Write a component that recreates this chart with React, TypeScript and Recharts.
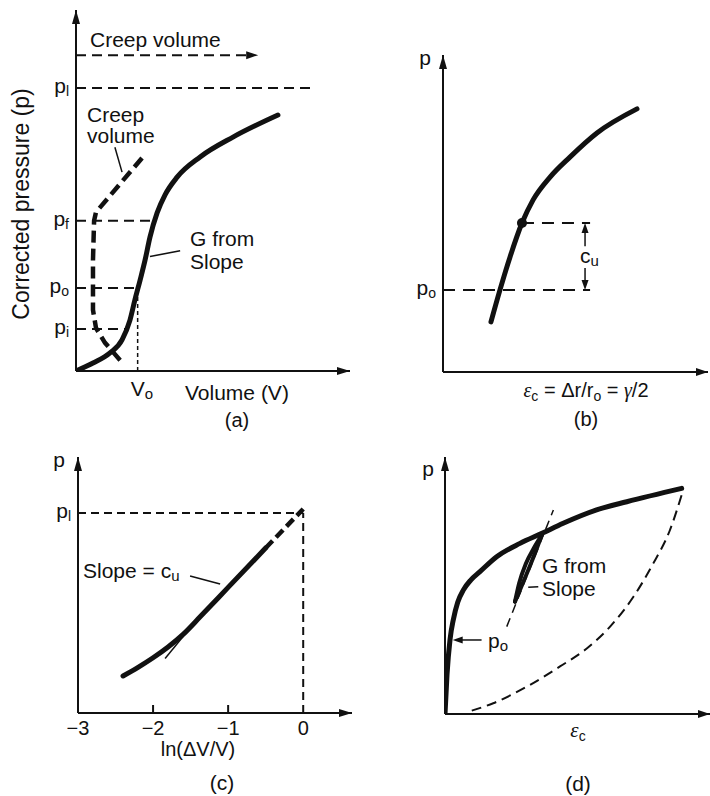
import React from 'react'
import { LineChart, Line, XAxis, YAxis, ReferenceLine, ReferenceDot } from 'recharts'

const FONT = '"Liberation Sans", Arial, Helvetica, sans-serif'
const INK = '#111'

// (a) corrected pressure vs volume, both axes 0..100 (schematic units)
const aLoading = [
  { x: 0, y: 0 }, { x: 6.2, y: 2.2 }, { x: 12.4, y: 5.0 }, { x: 16.8, y: 8.6 },
  { x: 19.7, y: 14.1 }, { x: 21.5, y: 19.7 }, { x: 23.4, y: 25.2 }, { x: 25.2, y: 30.7 },
  { x: 27.0, y: 37.1 }, { x: 29.6, y: 43.8 }, { x: 32.5, y: 48.8 }, { x: 36.9, y: 53.7 },
  { x: 45.3, y: 59.3 }, { x: 57.3, y: 64.8 }, { x: 73.7, y: 70.9 },
]
const aCreep = [
  { x: 16.1, y: 3.0 }, { x: 10.6, y: 7.8 }, { x: 7.3, y: 11.9 }, { x: 6.2, y: 16.9 },
  { x: 6.2, y: 30.7 }, { x: 6.6, y: 41.6 }, { x: 7.3, y: 44.0 }, { x: 24.1, y: 59.0 },
]
const aPi = 11.6
const aPo = 23
const aPf = 41.6
const aPl = 78.4
const aVo = 22.5
const aCreepArrowY = 87.5
const aPressTicks = [aPi, aPo, aPf, aPl]
const aPressSubs = ['i', 'o', 'f', 'l']
const aVolTicks = [aVo]
const aVolSubs = ['o']

// (b) p vs cavity strain
const bCurve = [
  { x: 18.1, y: 15.8 }, { x: 21.5, y: 25.9 }, { x: 25.3, y: 36.3 }, { x: 29.8, y: 47.0 },
  { x: 34.0, y: 54.3 }, { x: 40.4, y: 61.5 }, { x: 47.9, y: 67.8 }, { x: 58.1, y: 75.4 },
  { x: 73.2, y: 83.0 },
]
const bPo = 25.9
const bYield = { x: 29.8, y: 47.0 }
const bGuideEnd = 55.5
const bCuX = 53.6
const bPressTicks = [bPo]
const bPressSubs = ['o']

// (c) p vs ln(dV/V)
const cSolid = [
  { x: -2.4, y: 1.85 }, { x: -2.2, y: 2.28 }, { x: -2.0, y: 2.76 }, { x: -1.8, y: 3.3 },
  { x: -1.6, y: 3.93 }, { x: -1.37, y: 4.82 }, { x: -1.0, y: 6.28 }, { x: -0.5, y: 8.25 },
]
const cDashed = [{ x: -0.5, y: 8.25 }, { x: 0, y: 10.2 }]
const cTangent = [{ x: -1.84, y: 2.73 }, { x: -1.6, y: 3.82 }]
const cPl = 10
const cLnTicks = [-3, -2, -1, 0]
const cInnerTicks = [-2, -1]
const cPressTicks = [cPl]
const cPressSubs = ['l']

// (d) p vs eps_c with unload-reload loop
const dLoading = [
  { x: 0, y: 0 }, { x: 0.75, y: 15.2 }, { x: 1.9, y: 29 }, { x: 3.2, y: 37 },
  { x: 4.8, y: 43.5 }, { x: 6.9, y: 48.2 }, { x: 9.8, y: 52.2 }, { x: 13.2, y: 55.4 },
  { x: 19.5, y: 61.2 }, { x: 28.3, y: 66.4 }, { x: 36.6, y: 70.3 }, { x: 44.6, y: 74.2 },
  { x: 57.2, y: 79.4 }, { x: 68.6, y: 82.6 }, { x: 89.3, y: 87.8 },
]
const dUnload = [
  { x: 10.1, y: 1.3 }, { x: 18.2, y: 4.2 }, { x: 30.8, y: 10.6 }, { x: 43.4, y: 18.5 },
  { x: 53.5, y: 25.5 }, { x: 62.3, y: 34.0 }, { x: 71.1, y: 45.6 }, { x: 78.6, y: 58.6 },
  { x: 84.9, y: 71.6 }, { x: 89.3, y: 85.2 },
]
const dLoopA = [{ x: 26.4, y: 43.7 }, { x: 28.0, y: 51 }, { x: 30.5, y: 58.5 }, { x: 33.5, y: 64.5 }, { x: 36.5, y: 69.6 }]
const dLoopB = [{ x: 26.4, y: 43.7 }, { x: 29.0, y: 50 }, { x: 32.0, y: 57.5 }, { x: 34.5, y: 64 }, { x: 36.5, y: 69.6 }]
const dTangent = [{ x: 23.3, y: 34.0 }, { x: 40.9, y: 79.4 }]
const dPoY = 28.8

const axisStyle = { stroke: INK, strokeWidth: 2 }

const head = (dir: string, len = 13, half = 4.5) => (p: any) => {
  const { cx, cy } = p
  let d = ''
  if (dir === 'up') d = `M${cx},${cy} L${cx - half},${cy + len} L${cx + half},${cy + len} Z`
  if (dir === 'down') d = `M${cx},${cy} L${cx - half},${cy - len} L${cx + half},${cy - len} Z`
  if (dir === 'right') d = `M${cx},${cy} L${cx - len},${cy - half} L${cx - len},${cy + half} Z`
  if (dir === 'left') d = `M${cx},${cy} L${cx + len},${cy - half} L${cx + len},${cy + half} Z`
  return <path d={d} fill={INK} />
}

const pTick = (ticks: number[], subs: string[]) => (p: any) => {
  const s = subs[ticks.indexOf(p.payload.value)]
  return (
    <text x={p.x - 7} y={p.y + 5} textAnchor="end" fontFamily={FONT} fontSize={21} fill={INK}>
      p<tspan dy={3} fontSize={14}>{s}</tspan>
    </text>
  )
}

const vTick = (p: any) => (
  <text x={p.x - 7} y={p.y + 25} fontFamily={FONT} fontSize={21} fill={INK}>
    V<tspan dy={3} fontSize={15}>{aVolSubs[aVolTicks.indexOf(p.payload.value)]}</tspan>
  </text>
)

const lnTick = (p: any) => {
  const v = p.payload.value
  return (
    <text x={p.x} y={p.y + 22} textAnchor="middle" fontFamily={FONT} fontSize={20} fill={INK}>
      {v < 0 ? '\u2212' + Math.abs(v) : String(v)}
    </text>
  )
}

const thin = { stroke: INK, strokeWidth: 2, strokeDasharray: '10 6' }

// axes need a non-zero size or recharts skips them, so margins are reduced by 30
function PanelA() {
  return (
    <LineChart width={355} height={420} margin={{ top: 10, right: 5, bottom: 19, left: 46 }}>
      <XAxis type="number" dataKey="x" domain={[0, 100]} allowDataOverflow height={30} axisLine={axisStyle}
        tickLine={false} tickSize={0} tickMargin={0} ticks={aVolTicks} interval={0} tick={vTick} />
      <YAxis type="number" domain={[0, 100]} allowDataOverflow width={30} axisLine={axisStyle}
        tickLine={false} tickSize={0} tickMargin={0} ticks={aPressTicks} interval={0} tick={pTick(aPressTicks, aPressSubs)} />
      <ReferenceLine segment={[{ x: 0, y: aPl }, { x: 85.4, y: aPl }]} {...thin} ifOverflow="visible" />
      <ReferenceLine segment={[{ x: 0, y: aPf }, { x: 28.7, y: aPf }]} {...thin} ifOverflow="visible" />
      <ReferenceLine segment={[{ x: 0, y: aPo }, { x: aVo, y: aPo }]} {...thin} ifOverflow="visible" />
      <ReferenceLine segment={[{ x: 0, y: aPi }, { x: 18, y: aPi }]} {...thin} ifOverflow="visible" />
      <ReferenceLine segment={[{ x: aVo, y: 0 }, { x: aVo, y: aPo }]} stroke={INK} strokeWidth={1.5} strokeDasharray="4 3" ifOverflow="visible" />
      <ReferenceLine segment={[{ x: 0, y: aCreepArrowY }, { x: 63, y: aCreepArrowY }]} {...thin} ifOverflow="visible" />
      <ReferenceDot x={66.5} y={aCreepArrowY} r={1} shape={head('right', 12, 4)} ifOverflow="visible" />
      <ReferenceLine segment={[{ x: 14.2, y: 62.0 }, { x: 16.8, y: 55.1 }]} stroke={INK} strokeWidth={1.5} ifOverflow="visible" />
      <ReferenceLine segment={[{ x: 27.0, y: 31.7 }, { x: 38.0, y: 33.3 }]} stroke={INK} strokeWidth={1.5} ifOverflow="visible" />
      <ReferenceDot x={0} y={100} r={1} shape={head('up', 14, 4)} ifOverflow="visible" />
      <ReferenceDot x={100} y={0} r={1} shape={head('right', 13, 4)} ifOverflow="visible" />
      <Line data={aCreep} dataKey="y" type="linear" stroke={INK} strokeWidth={4.5} strokeDasharray="12 6"
        dot={false} isAnimationActive={false} />
      <Line data={aLoading} dataKey="y" type="monotone" stroke={INK} strokeWidth={5} strokeLinecap="round"
        dot={false} isAnimationActive={false} />
    </LineChart>
  )
}

function PanelB() {
  return (
    <LineChart width={340} height={420} margin={{ top: 55, right: 2, bottom: 18, left: 43 }}>
      <XAxis type="number" dataKey="x" domain={[0, 100]} allowDataOverflow height={30} axisLine={axisStyle} tick={false} tickLine={false} />
      <YAxis type="number" domain={[0, 100]} allowDataOverflow width={30} axisLine={axisStyle}
        tickLine={false} tickSize={0} tickMargin={0} ticks={bPressTicks} interval={0} tick={pTick(bPressTicks, bPressSubs)} />
      <ReferenceLine segment={[{ x: 0, y: bPo }, { x: bGuideEnd, y: bPo }]} stroke={INK} strokeWidth={2} strokeDasharray="12 8" ifOverflow="visible" />
      <ReferenceLine segment={[bYield, { x: bGuideEnd, y: bYield.y }]} stroke={INK} strokeWidth={2} strokeDasharray="12 8" ifOverflow="visible" />
      <ReferenceLine segment={[{ x: bCuX, y: 39.7 }, { x: bCuX, y: bYield.y - 2 }]} stroke={INK} strokeWidth={1.5} ifOverflow="visible" />
      <ReferenceLine segment={[{ x: bCuX, y: 32.8 }, { x: bCuX, y: bPo + 2 }]} stroke={INK} strokeWidth={1.5} ifOverflow="visible" />
      <ReferenceDot x={bCuX} y={bYield.y} r={1} shape={head('up', 10, 3.5)} ifOverflow="visible" />
      <ReferenceDot x={bCuX} y={bPo} r={1} shape={head('down', 10, 3.5)} ifOverflow="visible" />
      <ReferenceDot x={0} y={100} r={1} shape={head('up', 14, 4)} ifOverflow="visible" />
      <ReferenceDot x={100} y={0} r={1} shape={head('right', 12, 4)} ifOverflow="visible" />
      <Line data={bCurve} dataKey="y" type="monotone" stroke={INK} strokeWidth={5} strokeLinecap="round"
        dot={false} isAnimationActive={false} />
      <ReferenceDot x={bYield.x} y={bYield.y} r={5} fill={INK} stroke="none" ifOverflow="visible" />
    </LineChart>
  )
}

function PanelC() {
  return (
    <LineChart width={360} height={376} margin={{ top: 37, right: 8, bottom: 53, left: 48 }}>
      <XAxis type="number" dataKey="x" domain={[-3, 0.65]} allowDataOverflow height={30} axisLine={axisStyle}
        tickLine={false} tickSize={0} tickMargin={0} ticks={cLnTicks} interval={0} tick={lnTick} />
      <YAxis type="number" domain={[0, 12.8]} allowDataOverflow width={30} axisLine={axisStyle}
        tickLine={false} tickSize={0} tickMargin={0} ticks={cPressTicks} interval={0} tick={pTick(cPressTicks, cPressSubs)} />
      {cInnerTicks.map((t) => (
        <ReferenceLine key={t} segment={[{ x: t, y: 0 }, { x: t, y: 0.4 }]} stroke={INK} strokeWidth={2} ifOverflow="visible" />
      ))}
      <ReferenceLine segment={[{ x: -3, y: cPl }, { x: 0, y: cPl }]} stroke={INK} strokeWidth={2} strokeDasharray="8 5" ifOverflow="visible" />
      <ReferenceLine segment={[{ x: 0, y: 0 }, { x: 0, y: cPl }]} stroke={INK} strokeWidth={2} strokeDasharray="8 5" ifOverflow="visible" />
      <ReferenceLine segment={[{ x: -1.507, y: 6.85 }, { x: -1.107, y: 6.45 }]} stroke={INK} strokeWidth={1.5} ifOverflow="visible" />
      <ReferenceDot x={-3} y={12.8} r={1} shape={head('up', 14, 4)} ifOverflow="visible" />
      <ReferenceDot x={0.65} y={0} r={1} shape={head('right', 13, 4)} ifOverflow="visible" />
      <Line data={cTangent} dataKey="y" type="linear" stroke={INK} strokeWidth={1.5} dot={false} isAnimationActive={false} />
      <Line data={cSolid} dataKey="y" type="monotone" stroke={INK} strokeWidth={5} strokeLinecap="round"
        dot={false} isAnimationActive={false} />
      <Line data={cDashed} dataKey="y" type="linear" stroke={INK} strokeWidth={4.5} strokeDasharray="10 5"
        dot={false} isAnimationActive={false} />
    </LineChart>
  )
}

function PanelD() {
  return (
    <LineChart width={350} height={376} margin={{ top: 37, right: 0, bottom: 52, left: 55 }}>
      <XAxis type="number" dataKey="x" domain={[0, 100]} allowDataOverflow height={30} axisLine={axisStyle} tick={false} tickLine={false} />
      <YAxis type="number" domain={[0, 100]} allowDataOverflow width={30} axisLine={axisStyle} tick={false} tickLine={false} />
      <ReferenceDot x={0} y={100} r={1} shape={head('up', 14, 4)} ifOverflow="visible" />
      <ReferenceDot x={100} y={0} r={1} shape={head('right', 12, 4)} ifOverflow="visible" />
      <ReferenceLine segment={[{ x: 13.8, y: dPoY }, { x: 5, y: dPoY }]} stroke={INK} strokeWidth={1.5} ifOverflow="visible" />
      <ReferenceDot x={2.9} y={dPoY} r={1} shape={head('left', 10, 3.5)} ifOverflow="visible" />
      <ReferenceLine segment={[{ x: 31.4, y: 49.3 }, { x: 35.2, y: 49.5 }]} stroke={INK} strokeWidth={1.5} ifOverflow="visible" />
      <Line data={dTangent} dataKey="y" type="linear" stroke={INK} strokeWidth={1.5} strokeDasharray="9 6"
        dot={false} isAnimationActive={false} />
      <Line data={dUnload} dataKey="y" type="monotone" stroke={INK} strokeWidth={2} strokeDasharray="10 6"
        dot={false} isAnimationActive={false} />
      <Line data={dLoopA} dataKey="y" type="monotone" stroke={INK} strokeWidth={4} strokeLinecap="round"
        dot={false} isAnimationActive={false} />
      <Line data={dLoopB} dataKey="y" type="monotone" stroke={INK} strokeWidth={4} strokeLinecap="round"
        dot={false} isAnimationActive={false} />
      <Line data={dLoading} dataKey="y" type="monotone" stroke={INK} strokeWidth={5} strokeLinecap="round"
        dot={false} isAnimationActive={false} />
    </LineChart>
  )
}

const txt = { fontFamily: FONT, fontSize: 21, fill: INK }
const greek = { fontFamily: '"Liberation Serif", "DejaVu Serif", serif', fontStyle: 'italic' }

function Labels() {
  return (
    <svg width={710} height={796} style={{ position: 'absolute', left: 0, top: 0, pointerEvents: 'none' }}>
      {/* (a) */}
      <text {...txt} x={90} y={47}>Creep volume</text>
      <text {...txt} x={87} y={122}>Creep</text>
      <text {...txt} x={87} y={143}>volume</text>
      <text {...txt} x={190} y={246}>G from</text>
      <text {...txt} x={190} y={269}>Slope</text>
      <text {...txt} x={185} y={400}>Volume (V)</text>
      <text {...txt} fontSize={20} x={237} y={427} textAnchor="middle">(a)</text>
      <text {...txt} fontSize={23} x={29} y={204} textAnchor="middle" transform="rotate(-90 29 204)">Corrected pressure (p)</text>
      {/* (b) */}
      <text {...txt} x={425} y={65} textAnchor="middle">p</text>
      <text {...txt} x={580} y={263}>c<tspan dy={3} fontSize={15}>u</tspan></text>
      <text {...txt} fontSize={20} x={586} y={397} textAnchor="middle">
        <tspan {...greek}>ε</tspan><tspan dy={4} fontSize={14}>c</tspan><tspan dy={-4}> = Δr/r</tspan>
        <tspan dy={4} fontSize={14}>o</tspan><tspan dy={-4}> = </tspan><tspan {...greek}>γ</tspan>/2
      </text>
      <text {...txt} fontSize={20} x={586} y={426} textAnchor="middle">(b)</text>
      {/* (c) */}
      <text {...txt} x={59} y={467} textAnchor="middle">p</text>
      <text {...txt} x={83} y={578}>Slope = c<tspan dy={3} fontSize={15}>u</tspan></text>
      <text {...txt} fontSize={20} x={198} y={756} textAnchor="middle">ln(ΔV/V)</text>
      <text {...txt} x={222} y={790} textAnchor="middle">(c)</text>
      {/* (d) */}
      <text {...txt} x={428} y={476} textAnchor="middle">p</text>
      <text {...txt} x={488} y={648}>p<tspan dy={3} fontSize={15}>o</tspan></text>
      <text {...txt} x={542} y={573}>G from</text>
      <text {...txt} x={542} y={596}>Slope</text>
      <text {...txt} x={578} y={737} textAnchor="middle"><tspan {...greek}>ε</tspan><tspan dy={4} fontSize={14}>c</tspan></text>
      <text {...txt} x={578} y={791} textAnchor="middle">(d)</text>
    </svg>
  )
}

export default function App() {
  return (
    <div style={{ position: 'absolute', left: 0, top: 0, width: 710, height: 796, background: '#fff' }}>
      <div style={{ position: 'absolute', left: 0, top: 0 }}><PanelA /></div>
      <div style={{ position: 'absolute', left: 370, top: 0 }}><PanelB /></div>
      <div style={{ position: 'absolute', left: 0, top: 420 }}><PanelC /></div>
      <div style={{ position: 'absolute', left: 360, top: 420 }}><PanelD /></div>
      <Labels />
    </div>
  )
}
